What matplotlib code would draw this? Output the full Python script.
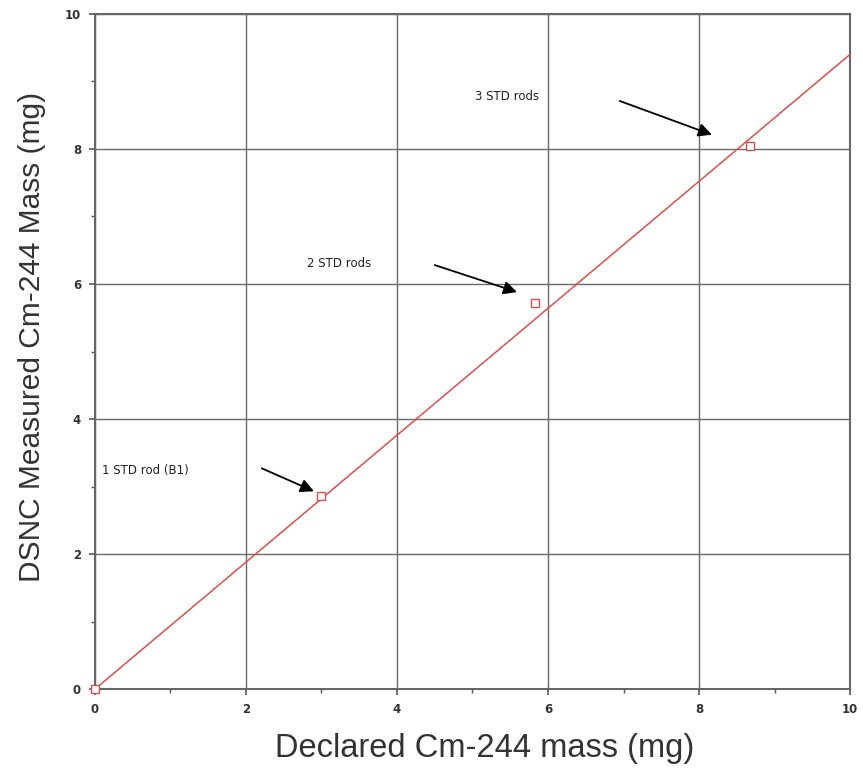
import matplotlib
matplotlib.use("Agg")
import matplotlib.pyplot as plt
from matplotlib.ticker import MultipleLocator

# declared vs measured Cm-244 mass (mg)
declared = [0.0, 3.0, 5.83, 8.68]
measured = [0.0, 2.86, 5.72, 8.04]
fit_x = [0.0, 10.0]
fit_y = [0.0, 9.4]

labels = ["1 STD rod (B1)", "2 STD rods", "3 STD rods"]
label_xy = [(0.09, 3.24), (2.81, 6.31), (5.03, 8.77)]
arrow_tail = [(2.21, 3.27), (4.50, 6.28), (6.95, 8.71)]
arrow_head = [(2.90, 2.93), (5.59, 5.88), (8.17, 8.21)]

red = "#d8504c"

fig = plt.figure(figsize=(8.63, 7.70), dpi=100)
ax = fig.add_axes([0.110, 0.105, 0.875, 0.877])

ax.plot(fit_x, fit_y, color=red, lw=1.1, zorder=3)
ax.plot(declared, measured, ls="none", marker="s", ms=6, mfc="white",
        mec=red, mew=1.0, zorder=4, clip_on=False)

for txt, (tx, ty), (ax0, ay0), (hx, hy) in zip(labels, label_xy, arrow_tail, arrow_head):
    ax.text(tx, ty, txt, fontsize=8.5, ha="left", va="center", color="#222222")
    ax.annotate("", xy=(hx, hy), xytext=(ax0, ay0),
                arrowprops=dict(arrowstyle="-|>", color="black", lw=1.3,
                                mutation_scale=20, shrinkA=0, shrinkB=0))

ax.set_xlim(0, 10)
ax.set_ylim(0, 10)
ax.xaxis.set_major_locator(MultipleLocator(2))
ax.yaxis.set_major_locator(MultipleLocator(2))
ax.xaxis.set_minor_locator(MultipleLocator(1))
ax.yaxis.set_minor_locator(MultipleLocator(1))
ax.grid(True, which="major", color="#6a6a6a", lw=1.0)
ax.tick_params(which="major", length=4, width=1.2, color="#555555",
               labelsize=8.5, pad=6)
ax.tick_params(which="minor", length=3, width=1.0, color="#555555")
for s in ax.spines.values():
    s.set_color("#666666")
    s.set_linewidth(1.5)
for lab in ax.get_xticklabels() + ax.get_yticklabels():
    lab.set_fontweight("bold")
    lab.set_color("#333333")

ax.set_xlabel("Declared Cm-244 mass (mg)", fontsize=23.5,
              family="Liberation Sans", color="#333333")
ax.xaxis.set_label_coords(0.516, -0.088, transform=ax.transAxes)
ax.xaxis.label.set_va("center")
ax.set_ylabel("DSNC Measured Cm-244 Mass (mg)", fontsize=21.5,
              family="Liberation Sans", color="#333333")
ax.yaxis.set_label_coords(-0.083, 0.522, transform=ax.transAxes)
ax.yaxis.label.set_va("center")

fig.savefig("out.png", dpi=100)
